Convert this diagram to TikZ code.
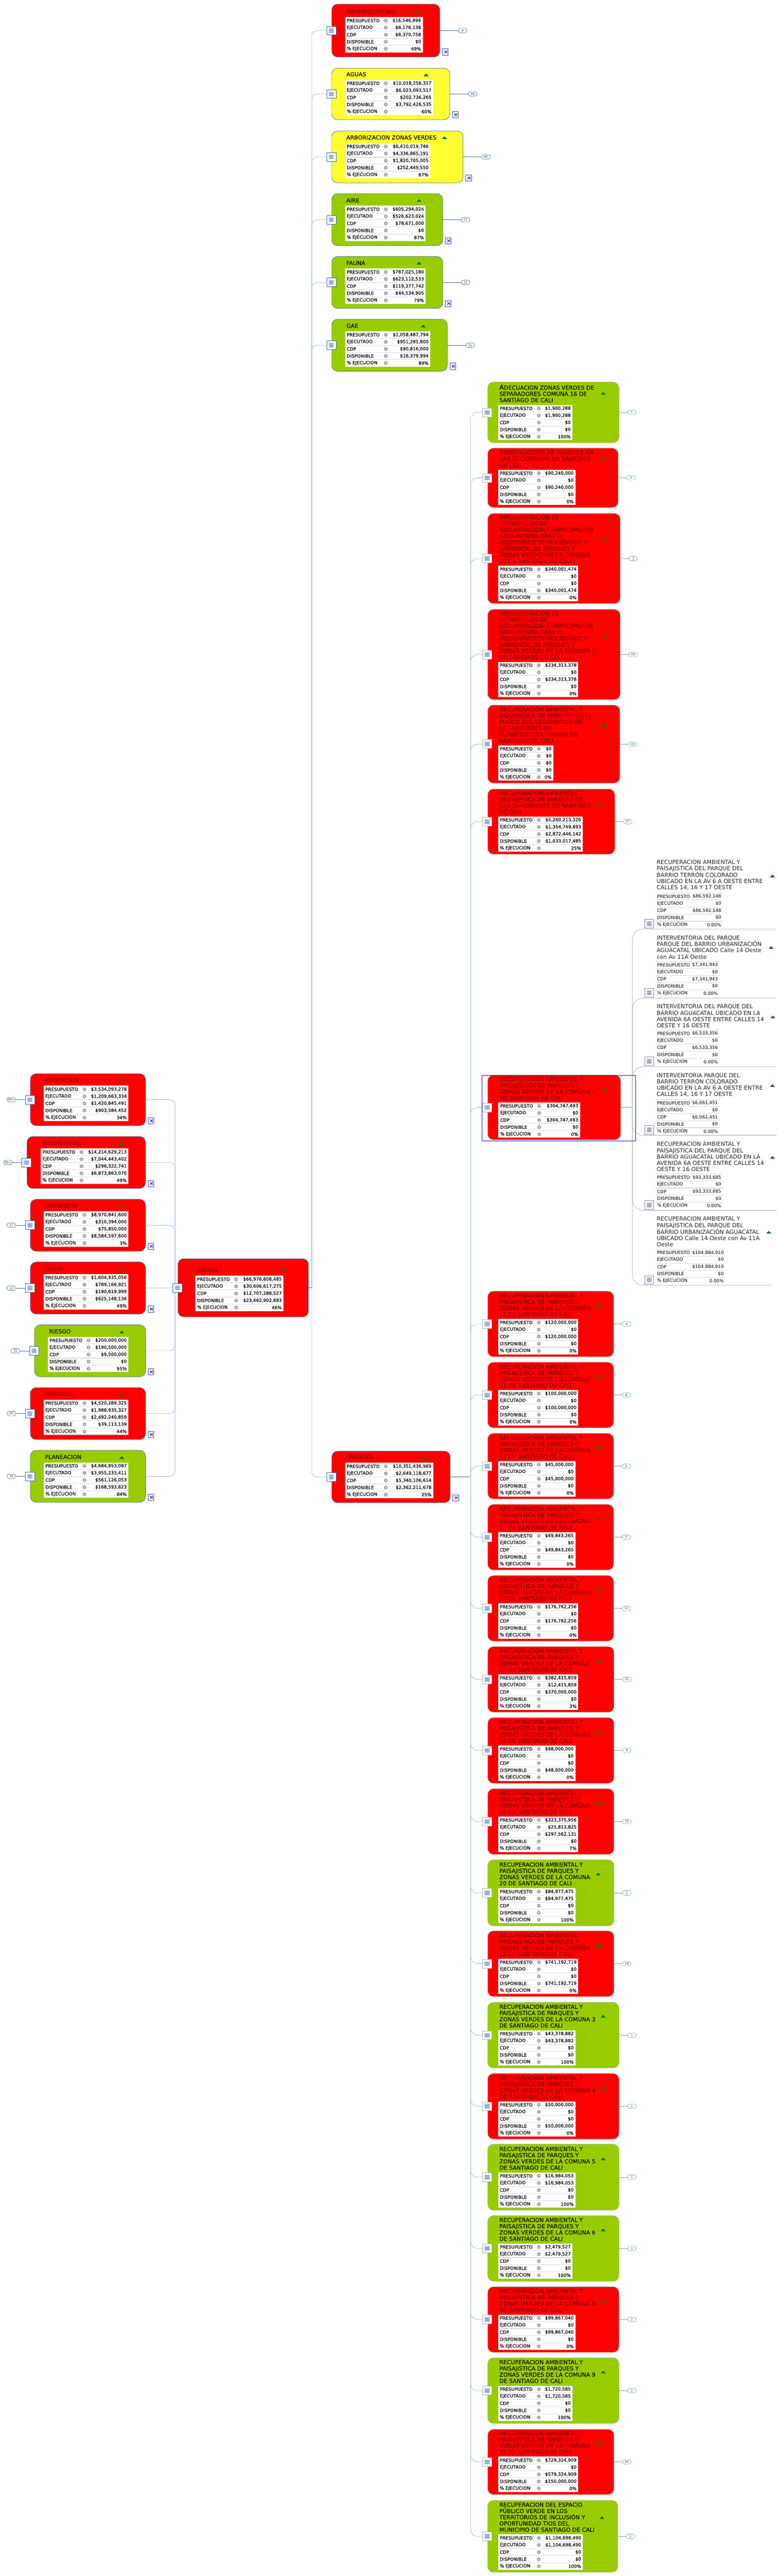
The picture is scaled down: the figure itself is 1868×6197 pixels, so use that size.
\documentclass[tikz,border=0pt]{standalone}
\usepackage{fontspec}
\setmainfont{DejaVu Sans}[BoldFont={DejaVu Sans},BoldFeatures={FakeBold=0.4}]
\usetikzlibrary{backgrounds}
\definecolor{rojo}{HTML}{FF0000}
\definecolor{verde}{HTML}{99CC00}
\definecolor{amarillo}{HTML}{FFFF33}
\definecolor{rojotxt}{HTML}{8A0000}
\definecolor{verdetxt}{HTML}{111100}
\definecolor{amarillotxt}{HTML}{111100}
\definecolor{azulnivel}{HTML}{3F6F9F}
\definecolor{azulrama}{HTML}{8FB0CF}
\definecolor{verdenivel}{HTML}{6FAE90}
\definecolor{verderama}{HTML}{8FB4A8}
\definecolor{bordedos}{HTML}{A9B99F}
\definecolor{grisrama}{HTML}{A8A8A8}
\definecolor{seleccion}{HTML}{1A1AE0}
\definecolor{notafill}{HTML}{B4C6E2}
\tikzset{
  caja/.style={rounded corners=14pt, line width=0.9pt, inner sep=0pt, outer sep=0pt},
  titulo/.style={inner sep=0pt, align=left, font=\fontsize{13.6}{15}\selectfont},
  titulocaja/.style={titulo, font=\fontsize{13.6}{15}\selectfont\bfseries},
  celda/.style={inner sep=0pt, text=black, font=\fontsize{10.8}{13}\selectfont},
  raya/.style={line width=1.3pt, black!14},
  nota/.style={fill=white, line width=0.8pt, minimum width=22pt, minimum height=21pt, inner sep=0pt},
  pildora/.style={fill=white, rounded corners=5.5pt, line width=0.8pt, minimum width=21pt,
    minimum height=11pt, inner sep=0pt, text=black!75, font=\fontsize{7.5}{8}\selectfont},
  hoja/.style={draw=blue!35!gray, fill=blue!8, line width=0.8pt, minimum width=14pt, minimum height=15pt, inner sep=0pt},
  linkuno/.style={azulnivel, line width=0.9pt},
  linkdos/.style={verdenivel, line width=0.9pt},
  ramauno/.style={azulrama, line width=0.8pt, rounded corners=13pt},
  ramados/.style={verderama, line width=0.8pt, rounded corners=17pt},
  ramatres/.style={grisrama, line width=0.8pt, rounded corners=26pt},
}
\newif\ifengrane
\engranetrue
% letra inicial mas alta
\newcommand{\ini}[1]{{\fontsize{16}{15}\selectfont #1}}
% engrane gris de cada fila
\newcommand{\engrane}[2]{
  \draw[black!38, line width=1.3pt, dash pattern=on 1.3pt off 1.1pt] (#1,#2) circle[radius=4.2pt];
  \fill[black!38] (#1,#2) circle[radius=3.8pt];
  \fill[white] (#1,#2) circle[radius=1.6pt];
}
% triangulo verde del titulo
\newcommand{\flecha}[2]{
  \fill[green!45!black] (#1-6,#2+3.5) -- (#1,#2-3) -- (#1+6,#2+3.5) -- cycle;
}
% cuadro de nota con su dibujo
\newcommand{\notaicon}[1]{
  \fill[notafill] ([shift={(-6.5,-6)}]#1.center) rectangle ([shift={(6.5,6)}]#1.center);
  \foreach \q in {-3,0,3}
    \draw[blue!30!gray!70, line width=0.5pt] ([shift={(-4,\q)}]#1.center) -- ([shift={(4,\q)}]#1.center);
}
% icono de hoja de calculo
\newcommand{\hojaicon}[3]{
  \node[hoja] (#1) at (#2,#3) {};
  \draw[blue!50!black, line width=1pt] ([shift={(-2,-3)}]#1.center) -- ([shift={(5,3)}]#1.center)
    ([shift={(-2,3)}]#1.center) -- ([shift={(5,-3)}]#1.center);
}
% tabla de cinco filas: nombre, izq, der, arriba, valores
\newcommand{\filas}[9]{
  \fill[white] (#2,#4) rectangle (#3,#4+85);
  \foreach \k/\rot/\val in {0/PRESUPUESTO/{\$#5},1/EJECUTADO/{\$#6},2/CDP/{\$#7},3/DISPONIBLE/{\$#8},4/\%{} EJECUCION/{#9}}
  {
    \pgfmathsetmacro{\yf}{#4+8.5+17*\k}
    \pgfmathsetmacro{\yl}{#4+17*\k}
    \ifnum\k>0
      \draw[raya] (#2,\yl) -- (#3,\yl);
    \else
      \ifengrane\else\draw[raya] (#2,\yl) -- (#3,\yl);\fi
    \fi
    \node[celda, anchor=west] (#1-r\k) at (#2+4,\yf) {\ifengrane\bfseries\fi\rot};
    \node[celda, anchor=east] (#1-v\k) at (#3-4,\yf) {\ifengrane\bfseries\fi\val};
    \ifengrane\engrane{#2+98}{\yf}\fi
  }
}
% tarjeta completa: margen inferior, color de borde
\newcommand{\tarjeta}[2]{
  \node[caja, draw=#2, fill=\clr, anchor=north west, minimum width={(\xb-\xa)*1pt},
    minimum height={(\yb-\ya)*1pt}] (\nm) at (\xa,\ya) {};
  \pgfmathsetmacro{\tb}{\yb-#1-85}
  \filas{\nm}{\xt}{\xr}{\tb}{\pr}{\ej}{\cd}{\di}{\pc}
  \pgfmathsetmacro{\tg}{\tb-4-0.36*#1}
  \node[titulocaja, text=\clr txt, anchor=south west] (\nm-t) at (\xt+3,\tg) {\tit};
  \flecha{\tx}{\ty}
  \node[nota, draw=#2] (\nm-i) at ({\xa-1},{(\ya+\yb)/2}) {};
  \notaicon{\nm-i}
}

\begin{document}
\begin{tikzpicture}[x=1pt, y=-1pt]
  \useasboundingbox (0,0) rectangle (1868,6197);

  % nodo central
  \foreach \nm/\clr/\xa/\ya/\xb/\yb/\xt/\xr/\tx/\ty/\tit/\pr/\ej/\cd/\di/\pc in {
    raiz/rojo/428/3028/742/3168/470/682/684/3052/{DAGMA}/{66,976,808,485}/{30,606,617,275}/{12,707,288,527}/{23,662,902,683}/{46\%}}
  {
    \tarjeta{14}{azulnivel}
  }
  \coordinate (spd) at (750,3098);
  \coordinate (spi) at (421,3098);
  \begin{scope}[on background layer]
    \draw[linkuno] (raiz.east) -- (spd);
    \draw[linkuno] (raiz-i.west) -- (spi);
  \end{scope}

  % ramas de la izquierda
  \foreach \nm/\clr/\xa/\ya/\yb/\xt/\ty/\lb/\tit/\pr/\ej/\cd/\di/\pc in {
    educacion/rojo/73/2583/2708/105/2600/99+/{EDUCACION}/{3,534,093,278}/{1,209,663,334}/{1,420,845,491}/{903,584,452}/{34\%},
    ecosistemas/rojo/65/2734/2859/98/2752/99+/{ECOSISTEMAS}/{14,214,629,213}/{7,044,443,402}/{296,322,741}/{6,873,863,070}/{49\%},
    sentencia/rojo/73/2885/3010/105/2902/17/{SENTENCIA}/{8,970,841,600}/{310,394,000}/{75,850,000}/{8,584,597,600}/{3\%},
    ruido/rojo/73/3036/3161/105/3053/13/{RUIDO}/{1,604,935,056}/{789,166,921}/{190,619,999}/{625,148,136}/{49\%},
    riesgo/verde/83/3187/3312/115/3204/70/{RIESGO}/{200,000,000}/{190,500,000}/{9,500,000}/{0}/{95\%},
    residuos/rojo/73/3338/3463/105/3355/29/{RESIDUOS}/{4,520,289,325}/{1,988,935,327}/{2,492,240,859}/{39,113,139}/{44\%},
    planeacion/verde/73/3489/3614/105/3506/39/{PLANEACION}/{4,684,953,087}/{3,955,233,411}/{561,126,053}/{168,593,623}/{84\%}}
  {
    \def\xb{350}\def\xr{309}\def\tx{293}
    \tarjeta{11}{azulnivel}
    \hojaicon{\nm-h}{\xb+13}{\yb-12}
    \node[pildora, draw=azulnivel, anchor=east] (\nm-p) at ({\xa-35},{(\ya+\yb)/2}) {\lb};
    \draw[linkuno] (\nm-p.east) -- (\nm-i.west);
    \begin{scope}[on background layer]
      \draw[ramauno] (\nm.east) -| (spi);
    \end{scope}
  }

  % ramas de la derecha, primer nivel
  \foreach \nm/\clr/\ya/\xb/\yb/\xr/\tx/\ty/\lb/\tit/\pr/\ej/\cd/\di/\pc in {
    administrativo/rojo/10/1058/137/1017/1000/29/4/{\ini{A}DMINISTRATIVO}/{16,546,896}/{8,176,138}/{8,370,758}/{0}/{49\%},
    aguas/amarillo/164/1082/288/1042/1025/180/48/{AGUAS}/{10,018,256,317}/{6,023,093,517}/{202,736,265}/{3,792,426,535}/{60\%},
    arborizacion/amarillo/315/1114/440/1035/1069/331/60/{ARBORIZACION ZONAS VERDES}/{6,410,019,746}/{4,336,865,191}/{1,820,705,005}/{252,449,550}/{67\%},
    aire/verde/466/1065/591/1024/1008/482/27/{AIRE}/{605,294,024}/{526,623,024}/{78,671,000}/{0}/{87\%},
    fauna/verde/617/1065/742/1024/1008/633/22/{FAUNA}/{787,025,180}/{623,112,533}/{119,377,742}/{44,534,905}/{79\%},
    gae/verde/768/1076/893/1035/1018/784/31/{GAE}/{1,058,487,794}/{951,291,800}/{90,816,000}/{16,379,994}/{89\%}}
  {
    \def\xa{798}\def\xt{830}
    \tarjeta{11}{azulnivel}
    \hojaicon{\nm-h}{\xb+13}{\yb-12}
    \node[pildora, draw=azulnivel, anchor=west] (\nm-p) at ({\xb+44},{(\ya+\yb)/2}) {\lb};
    \draw[linkuno] (\nm.east) -- (\nm-p.west);
    \begin{scope}[on background layer]
      \draw[ramauno] (spd) |- (\nm-i.west);
    \end{scope}
  }

  % parques
  \foreach \nm/\clr/\xa/\ya/\xb/\yb/\xt/\xr/\tx/\ty/\tit/\pr/\ej/\cd/\di/\pc in {
    parques/rojo/798/3491/1083/3615/830/1042/1025/3508/{PARQUES}/{10,351,436,969}/{2,649,118,677}/{5,340,106,614}/{2,362,211,678}/{25\%}}
  {
    \tarjeta{11}{azulnivel}
    \hojaicon{\nm-h}{\xb+13}{\yb-12}
    \begin{scope}[on background layer]
      \draw[ramauno] (spd) |- (\nm-i.west);
    \end{scope}
  }
  \coordinate (spp) at (1132,3553);
  \begin{scope}[on background layer]
    \draw[linkuno] (parques.east) -- (spp);
  \end{scope}

  % proyectos de parques
  \foreach \nm/\clr/\ya/\xb/\yb/\xr/\tx/\ty/\lb/\tit/\pr/\ej/\cd/\di/\pc in {
    ca/verde/919/1489/1065/1377/1451/946/1/{\ini{A}DECUACION ZONAS VERDES DE\\SEPARADORES  COMUNA 16 DE\\SANTIAGO DE CALI}/{1,900,288}/{1,900,288}/{0}/{0}/{100\%},
    cb/rojo/1078/1487/1221/1384/1450/1104/2/{CONSTRUCCIÓN DE PARQUES EN\\LAS 22 COMUNAS DE SANTIAGO\\DE CALI}/{90,240,000}/{0}/{90,240,000}/{0}/{0\%},
    cc/rojo/1235/1492/1452/1391/1455/1297/3/{IMPLEMENTACIÓN DE\\ESTRATEGIAS DE\\RECUPERACIÓN Y PARTICIPACIÓN\\COMUNITARIA PARA EL\\MEJORAMIENTO PAISAJÍSTICO Y\\AMBIENTAL DE PARQUES Y\\ZONAS VERDES DE LA COMUNA\\20 DE SANTIAGO DE CALI}/{340,001,474}/{0}/{0}/{340,001,474}/{0\%},
    cd/rojo/1466/1492/1683/1391/1455/1530/18/{IMPLEMENTACIÓN DE\\ESTRATEGIAS DE\\RECUPERACION Y PARTICIPACIÓN\\COMUNITARIA PARA EL\\MEJORAMIENTO PAISAJÌSTICO Y\\AMBIENTAL DE PARQUES Y\\ZONAS VERDES DE LA COMUNA 6\\DE SANTIAGO DE CALI.}/{234,313,378}/{0}/{234,313,378}/{0}/{0\%},
    ce/rojo/1696/1491/1884/1331/1453/1745/10/{RECUPERACIÓN AMBIENTAL Y\\PAISAJÍSTICA DE PARQUES EN EL\\MARCO DEL DESARROLLO DE\\LAS UNIDADES DE\\PLANIFICACIÓN URBANA DE\\SANTIAGO DE CALI.}/{0}/{0}/{0}/{0}/{0\%},
    cf/rojo/1898/1479/2055/1402/1442/1932/27/{RECUPERACION AMBIENTAL Y\\PAISAJISTICA DE PARQUES EN\\LAS 22 COMUNAS DE SANTIAGO\\DE CALI}/{5,260,213,320}/{1,354,749,693}/{2,872,446,142}/{1,033,017,485}/{25\%},
    ch/rojo/3106/1476/3264/1391/1439/3140/4/{RECUPERACION AMBIENTAL Y\\PAISAJISTICA DE PARQUES Y\\ZONAS VERDES DE LA COMUNA\\10 DE SANTIAGO DE CALI}/{120,000,000}/{0}/{120,000,000}/{0}/{0\%},
    ci/rojo/3277/1476/3435/1391/1439/3311/8/{RECUPERACION AMBIENTAL Y\\PAISAJISTICA DE PARQUES Y\\ZONAS VERDES DE LA COMUNA\\11 DE SANTIAGO DE CALI}/{100,000,000}/{0}/{100,000,000}/{0}/{0\%},
    cj/rojo/3448/1476/3606/1384/1439/3482/2/{RECUPERACION AMBIENTAL Y\\PAISAJISTICA DE PARQUES Y\\ZONAS VERDES DE LA COMUNA\\12 DE SANTIAGO DE CALI}/{45,000,000}/{0}/{45,000,000}/{0}/{0\%},
    ck/rojo/3619/1476/3777/1384/1439/3653/2/{RECUPERACION AMBIENTAL Y\\PAISAJISTICA DE PARQUES Y\\ZONAS VERDES DE LA COMUNA\\13 DE SANTIAGO DE CALI}/{49,843,265}/{0}/{49,843,265}/{0}/{0\%},
    cl/rojo/3790/1476/3948/1391/1439/3824/12/{RECUPERACIÓN AMBIENTAL Y\\PAISAJISTICA DE PARQUES Y\\ZONAS VERDES DE LA COMUNA\\15 DE SANTIAGO DE CALI}/{176,762,256}/{0}/{176,762,256}/{0}/{0\%},
    cm/rojo/3961/1477/4119/1391/1439/3996/21/{RECUPERACION AMBIENTAL Y\\PAISAJISTICA DE PARQUES Y\\ZONAS VERDES DE LA COMUNA\\17 DE SANTIAGO DE CALI}/{382,415,859}/{12,415,859}/{370,000,000}/{0}/{3\%},
    cn/rojo/4132/1477/4290/1384/1439/4167/4/{RECUPERACION AMBIENTAL Y\\PAISAJISTICA DE PARQUES Y\\ZONAS VERDES DE LA COMUNA\\18 DE SANTIAGO DE CALI}/{48,000,000}/{0}/{0}/{48,000,000}/{0\%},
    co/rojo/4303/1477/4461/1391/1439/4338/15/{RECUPERACION AMBIENTAL Y\\PAISAJISTICA DE PARQUES Y\\ZONAS VERDES DE LA COMUNA\\19 DE SANTIAGO DE CALI}/{323,375,956}/{25,813,825}/{297,562,131}/{0}/{7\%},
    cp/verde/4474/1477/4633/1384/1439/4508/1/{RECUPERACION AMBIENTAL Y\\PAISAJISTICA DE PARQUES Y\\ZONAS VERDES DE LA COMUNA\\20 DE SANTIAGO DE CALI}/{84,977,475}/{84,977,475}/{0}/{0}/{100\%},
    cq/rojo/4645/1477/4803/1391/1439/4680/16/{RECUPERACIÓN AMBIENTAL Y\\PAISAJÍSTICA DE PARQUES Y\\ZONAS VERDES DE LA COMUNA\\22 DE SANTIAGO DE CALI}/{741,192,719}/{0}/{0}/{741,192,719}/{0\%},
    cr/verde/4817/1489/4975/1384/1451/4850/1/{RECUPERACION AMBIENTAL Y\\PAISAJISTICA DE PARQUES Y\\ZONAS VERDES DE LA COMUNA 3\\DE SANTIAGO DE CALI}/{43,378,882}/{43,378,882}/{0}/{0}/{100\%},
    cs/rojo/4988/1489/5146/1384/1451/5022/2/{RECUPERACION AMBIENTAL Y\\PAISAJISTICA DE PARQUES Y\\ZONAS VERDES DE LA COMUNA 4\\DE SANTIAGO DE CALI}/{50,000,000}/{0}/{0}/{50,000,000}/{0\%},
    ct/verde/5158/1489/5317/1384/1451/5193/1/{RECUPERACION AMBIENTAL Y\\PAISAJISTICA DE PARQUES Y\\ZONAS VERDES DE LA COMUNA 5\\DE SANTIAGO DE CALI}/{16,984,053}/{16,984,053}/{0}/{0}/{100\%},
    cu/verde/5330/1489/5488/1377/1451/5364/1/{RECUPERACION AMBIENTAL Y\\PAISAJISTICA DE PARQUES Y\\ZONAS VERDES DE LA COMUNA 6\\DE SANTIAGO DE CALI}/{2,479,527}/{2,479,527}/{0}/{0}/{100\%},
    cv/rojo/5501/1489/5659/1384/1451/5535/2/{RECUPERACIÓN AMBIENTAL Y\\PAISAJISTICA DE PARQUES Y\\ZONAS VERDES DE LA COMUNA 8\\DE SANTIAGO DE CALI}/{99,867,040}/{0}/{99,867,040}/{0}/{0\%},
    cw/verde/5672/1489/5830/1377/1451/5706/1/{RECUPERACION AMBIENTAL Y\\PAISAJISTICA DE PARQUES Y\\ZONAS VERDES DE LA COMUNA 9\\DE SANTIAGO DE CALI}/{1,720,585}/{1,720,585}/{0}/{0}/{100\%},
    cx/rojo/5844/1477/6001/1391/1439/5878/26/{RECUPERACION AMBIENTAL Y\\PASIAJISTICA DE PARQUES Y\\ZONAS VERDES DE LA COMUNA\\21 DE SANTIAGO DE CALI}/{729,324,909}/{0}/{579,324,909}/{150,000,000}/{0\%},
    cy/verde/6015/1486/6188/1402/1448/6056/1/{RECUPERACION DEL ESPACIO\\PÚBLICO VERDE EN LOS\\TERRITORIOS DE INCLUSIÓN Y\\OPORTUNIDAD TIOS DEL\\MUNICIPIO DE SANTIAGO DE CALI}/{1,104,698,490}/{1,104,698,490}/{0}/{0}/{100\%}}
  {
    \def\xa{1173}\def\xt{1198}
    \tarjeta{6}{bordedos}
    \node[pildora, draw=verdenivel, anchor=west] (\nm-p) at ({\xb+20},{(\ya+\yb)/2}) {\lb};
    \draw[linkdos] (\nm.east) -- (\nm-p.west);
    \begin{scope}[on background layer]
      \draw[ramados] (spp) |- (\nm-i.west);
    \end{scope}
  }

  % proyecto abierto con su seleccion
  \foreach \nm/\clr/\ya/\xb/\yb/\xr/\tx/\ty/\tit/\pr/\ej/\cd/\di/\pc in {
    cg/rojo/2586/1493/2742/1395/1455/2620/{RECUPERACIÓN AMBIENTAL Y\\PAISAJISTICA DE PARQUES Y\\ZONAS VERDES DE LA COMUNA 1\\DE SANTIAGO DE CALI}/{304,747,493}/{0}/{304,747,493}/{0}/{0\%}}
  {
    \def\xa{1173}\def\xt{1199}
    \tarjeta{5}{bordedos}
    \begin{scope}[on background layer]
      \draw[ramados] (spp) |- (\nm-i.west);
    \end{scope}
  }
  \coordinate (spt) at (1521,2664);
  \begin{scope}[on background layer]
    \draw[linkdos] (cg.east) -- (spt);
  \end{scope}
  \node[draw=seleccion, line width=1.6pt, inner sep=0pt, minimum width=369pt, minimum height=158pt,
    anchor=north west] (marco) at (1159,2586) {};

  % contratos de la comuna 1
  \engranefalse
  \foreach \nm/\xr/\tb/\ly/\xe/\tx/\ty/\tit/\pr/\ej/\cd/\di/\pc in {
    da/1739/2148/2235/1868/1858/2107/{RECUPERACION AMBIENTAL Y\\PAISAJISTICA DEL PARQUE DEL\\BARRIO TERRÓN COLORADO\\UBICADO EN LA  AV 6 A OESTE ENTRE\\CALLES 14, 16 Y 17 OESTE}/{86,592,148}/{0}/{86,592,148}/{0}/{0.00\%},
    db/1731/2313/2401/1866/1855/2279/{INTERVENTORIA DEL PARQUE\\PARQUE DEL BARRIO URBANIZACIÓN\\AGUACATAL UBICADO Calle 14 Oeste\\con Av 11A Oeste}/{7,341,943}/{0}/{7,341,943}/{0}/{0.00\%},
    dc/1731/2478/2566/1868/1859/2446/{INTERVENTORIA DEL PARQUE DEL\\BARRIO AGUACATAL UBICADO EN LA\\AVENIDA 6A OESTE ENTRE CALLES 14\\OESTE Y 16 OESTE}/{6,533,356}/{0}/{6,533,356}/{0}/{0.00\%},
    dd/1731/2645/2731/1868/1858/2611/{INTERVENTORIA PARQUE DEL\\BARRIO TERRÓN COLORADO\\UBICADO EN LA  AV 6 A OESTE ENTRE\\CALLES 14, 16 Y 17 OESTE}/{6,061,451}/{0}/{6,061,451}/{0}/{0.00\%},
    de/1739/2824/2912/1868/1858/2784/{RECUPERACION AMBIENTAL Y\\PAISAJISTICA DEL PARQUE DEL\\BARRIO AGUACATAL UBICADO EN LA\\AVENIDA 6A OESTE ENTRE CALLES 14\\OESTE Y 16 OESTE}/{93,333,685}/{0}/{93,333,685}/{0}/{0.00\%},
    df/1745/3005/3092/1859/1849/2964/{RECUPERACION AMBIENTAL Y\\PAISAJISTICA DEL PARQUE DEL\\BARRIO URBANIZACIÓN AGUACATAL\\UBICADO Calle 14 Oeste con Av 11A\\Oeste}/{104,884,910}/{0}/{104,884,910}/{0}/{0.00\%}}
  {
    \filas{\nm}{1576.5}{\xr}{\tb}{\pr}{\ej}{\cd}{\di}{\pc}
    \node[titulo, text=black!85, anchor=south west] (\nm-t) at (1579.5,\tb-6) {\tit};
    \flecha{\tx}{\ty}
    \node[nota, draw=black!45] (\nm-i) at (1561.5,\ly-13) {};
    \notaicon{\nm-i}
    \coordinate (\nm-e) at (\xe,\ly);
    \begin{scope}[on background layer]
      \draw[ramatres] (spt) |- (\nm-e);
    \end{scope}
  }
\end{tikzpicture}
\end{document}
